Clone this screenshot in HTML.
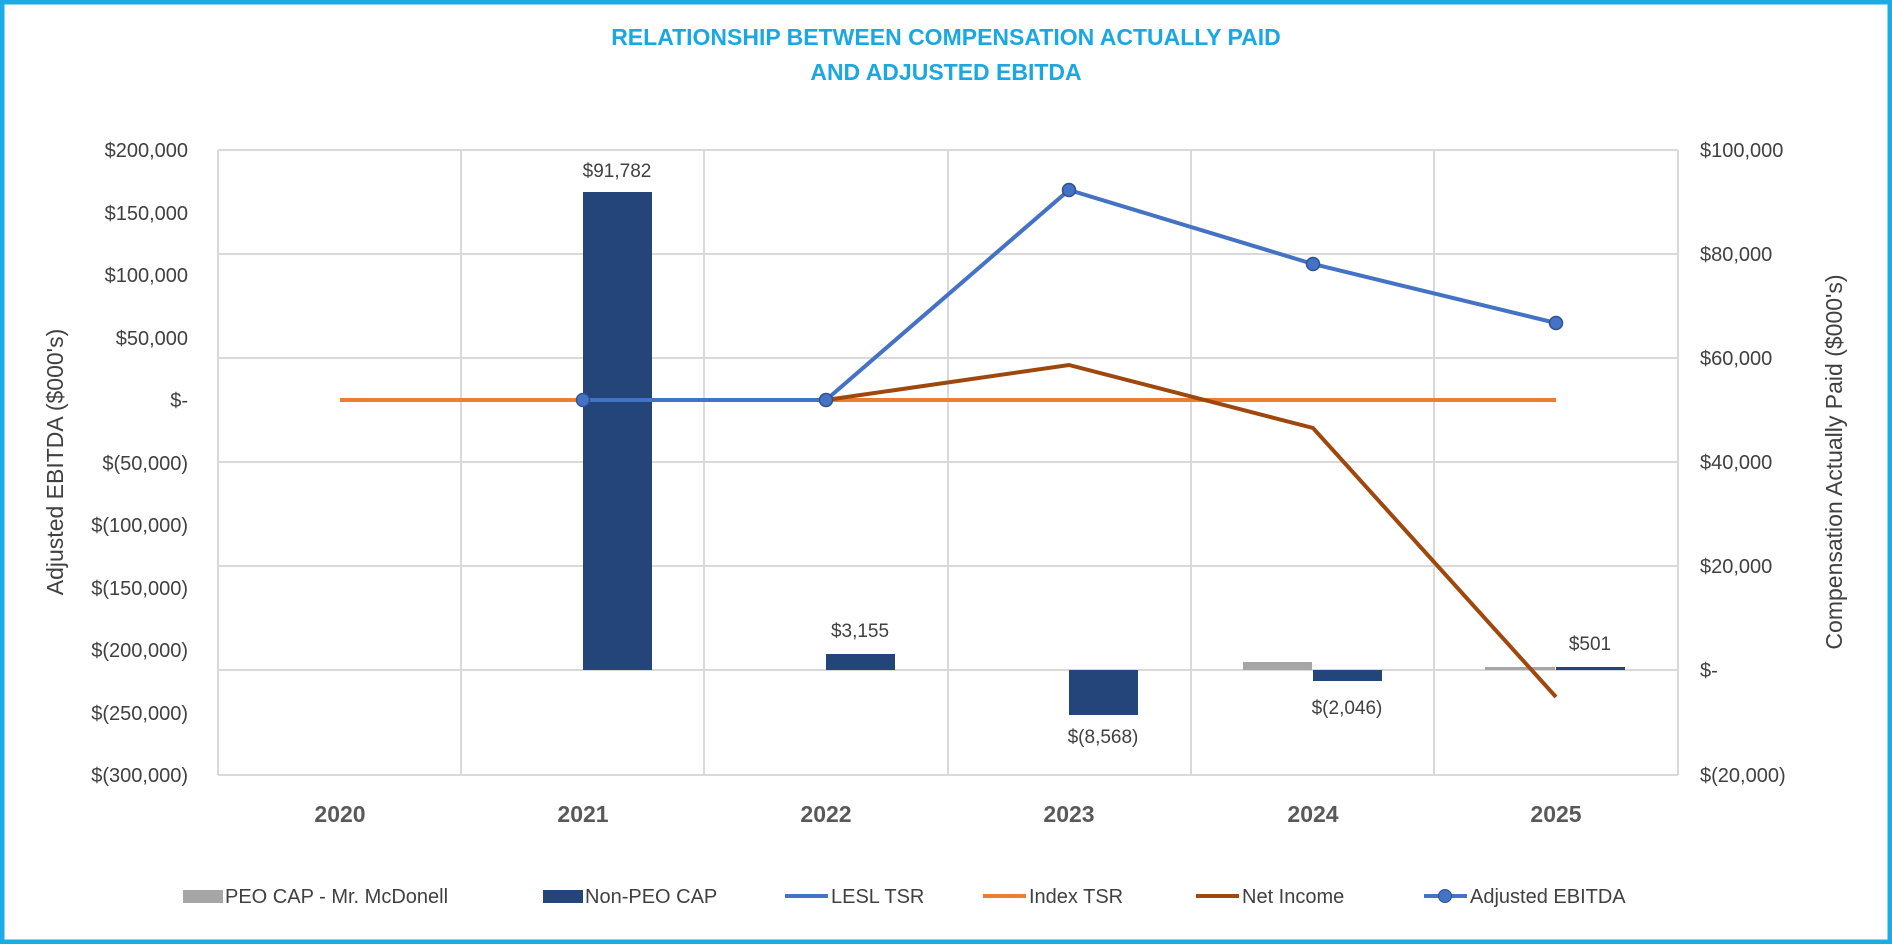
<!DOCTYPE html>
<html><head><meta charset="utf-8"><style>
html,body{margin:0;padding:0;background:#fff}
svg{display:block}
text{font-family:"Liberation Sans",sans-serif;fill:#404040}
</style></head><body>
<svg width="1892" height="944" viewBox="0 0 1892 944" xmlns="http://www.w3.org/2000/svg">
<rect x="2" y="2" width="1888" height="940" fill="#fff" stroke="#1aace3" stroke-width="5"/>
<text x="946" y="45" text-anchor="middle" font-size="23" font-weight="bold" style="fill:#1ba8e0">RELATIONSHIP BETWEEN COMPENSATION ACTUALLY PAID</text>
<text x="946" y="80" text-anchor="middle" font-size="23" font-weight="bold" style="fill:#1ba8e0">AND ADJUSTED EBITDA</text>
<g stroke="#d9d9d9" stroke-width="2" fill="none">
<line x1="218" y1="150" x2="1678" y2="150"/><line x1="218" y1="254" x2="1678" y2="254"/><line x1="218" y1="358" x2="1678" y2="358"/><line x1="218" y1="462" x2="1678" y2="462"/><line x1="218" y1="566" x2="1678" y2="566"/><line x1="218" y1="670" x2="1678" y2="670"/><line x1="218" y1="775" x2="1678" y2="775"/>
<line x1="218" y1="150" x2="218" y2="775"/><line x1="461" y1="150" x2="461" y2="775"/><line x1="704" y1="150" x2="704" y2="775"/><line x1="948" y1="150" x2="948" y2="775"/><line x1="1191" y1="150" x2="1191" y2="775"/><line x1="1434" y1="150" x2="1434" y2="775"/><line x1="1678" y1="150" x2="1678" y2="775"/>
</g>
<g font-size="20" text-anchor="end">
<text x="188" y="157">$200,000</text><text x="188" y="220">$150,000</text><text x="188" y="282">$100,000</text><text x="188" y="345">$50,000</text><text x="188" y="407">$-</text><text x="188" y="470">$(50,000)</text><text x="188" y="532">$(100,000)</text><text x="188" y="595">$(150,000)</text><text x="188" y="657">$(200,000)</text><text x="188" y="720">$(250,000)</text><text x="188" y="782">$(300,000)</text>
</g>
<g font-size="20">
<text x="1700" y="157">$100,000</text><text x="1700" y="261">$80,000</text><text x="1700" y="365">$60,000</text><text x="1700" y="469">$40,000</text><text x="1700" y="573">$20,000</text><text x="1700" y="677">$-</text><text x="1700" y="782">$(20,000)</text>
</g>
<text transform="translate(63,462) rotate(-90)" text-anchor="middle" font-size="23">Adjusted EBITDA ($000's)</text>
<text transform="translate(1842,462) rotate(-90)" text-anchor="middle" font-size="23">Compensation Actually Paid ($000's)</text>
<g fill="#24457a">
<rect x="583" y="192" width="69" height="478"/>
<rect x="826" y="654" width="69" height="16"/>
<rect x="1069" y="670" width="69" height="45"/>
<rect x="1313" y="670" width="69" height="11"/>
<rect x="1556" y="667" width="69" height="3"/>
</g>
<g fill="#a6a6a6">
<rect x="1243" y="662" width="69" height="8"/>
<rect x="1485" y="667" width="70" height="3"/>
</g>
<g font-size="19" text-anchor="middle">
<text x="617" y="177">$91,782</text><text x="860" y="637">$3,155</text><text x="1103" y="743">$(8,568)</text><text x="1347" y="714">$(2,046)</text><text x="1590" y="650">$501</text>
</g>
<line x1="340" y1="400" x2="1556" y2="400" stroke="#ed7d31" stroke-width="4"/>
<polyline points="826,400 1069,365 1313,428 1556,697" fill="none" stroke="#9e480e" stroke-width="4"/>
<polyline points="583,400 826,400 1069,190 1313,264 1556,323" fill="none" stroke="#4472c4" stroke-width="4"/>
<g fill="#4472c4" stroke="#2f528f" stroke-width="1.5">
<circle cx="583" cy="400" r="6.5"/><circle cx="826" cy="400" r="6.5"/><circle cx="1069" cy="190" r="6.5"/><circle cx="1313" cy="264" r="6.5"/><circle cx="1556" cy="323" r="6.5"/>
</g>
<g font-size="23" font-weight="bold" text-anchor="middle" style="fill:#595959">
<text x="340" y="822" style="fill:#595959">2020</text><text x="583" y="822" style="fill:#595959">2021</text><text x="826" y="822" style="fill:#595959">2022</text><text x="1069" y="822" style="fill:#595959">2023</text><text x="1313" y="822" style="fill:#595959">2024</text><text x="1556" y="822" style="fill:#595959">2025</text>
</g>
<g font-size="20">
<rect x="183" y="890" width="40" height="13" fill="#a6a6a6"/><text x="225" y="903">PEO CAP - Mr. McDonell</text>
<rect x="543" y="890" width="40" height="13" fill="#24457a"/><text x="585" y="903">Non-PEO CAP</text>
<line x1="785" y1="896" x2="828" y2="896" stroke="#4472c4" stroke-width="4"/><text x="831" y="903">LESL TSR</text>
<line x1="983" y1="896" x2="1026" y2="896" stroke="#ed7d31" stroke-width="4"/><text x="1029" y="903">Index TSR</text>
<line x1="1196" y1="896" x2="1239" y2="896" stroke="#9e480e" stroke-width="4"/><text x="1242" y="903">Net Income</text>
<line x1="1424" y1="896" x2="1467" y2="896" stroke="#4472c4" stroke-width="4"/><circle cx="1445" cy="896" r="6.5" fill="#4472c4" stroke="#2f528f"/><text x="1470" y="903">Adjusted EBITDA</text>
</g>
</svg>
</body></html>
